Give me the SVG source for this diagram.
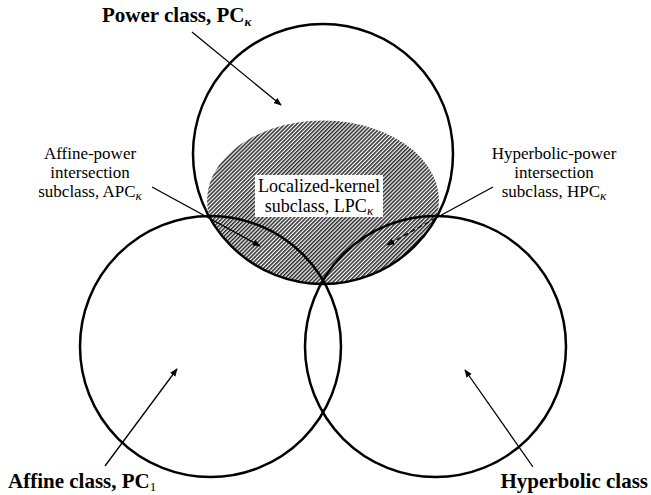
<svg xmlns="http://www.w3.org/2000/svg" width="651" height="495" viewBox="0 0 651 495">
<defs>
<pattern id="hatch" width="2.8" height="2.8" patternUnits="userSpaceOnUse" patternTransform="rotate(45)">
<rect width="2.8" height="2.8" fill="#ffffff"/>
<line x1="0.8" y1="0" x2="0.8" y2="2.8" stroke="#000" stroke-width="1.3"/>
</pattern>
<marker id="ah" viewBox="0 0 10 10" refX="9" refY="5" markerWidth="8" markerHeight="8" markerUnits="userSpaceOnUse" orient="auto">
<path d="M0,1 L10,5 L0,9 Z" fill="#000"/>
</marker>
</defs>
<style>
.ring{fill:none;stroke:#000;stroke-width:2.5}
.bold{font-family:"Liberation Serif","Times New Roman",serif;font-weight:bold;font-size:21px;fill:#000}
.reg{font-family:"Liberation Serif","Times New Roman",serif;font-size:17px;fill:#000}
.sub{font-style:italic;font-size:13px}
.conn{stroke:#000;stroke-width:1.3;fill:none}
</style>
<rect width="651" height="495" fill="#ffffff"/>

<g id="localized-kernel">
<path d="M209.8,218 A116,80 0 1 1 436.2,218 A130,130 0 0 1 209.8,218 Z" fill="url(#hatch)"/>
</g>

<g id="power-class">
<circle class="ring" cx="323" cy="154" r="130"/>
<text class="bold" x="102" y="22">Power class, PC<tspan class="sub" dy="4">κ</tspan></text>
</g>

<g id="affine-class">
<circle class="ring" cx="210.5" cy="346.5" r="130.5"/>
<text class="bold" x="8" y="488">Affine class, PC<tspan style="font-weight:normal;font-size:13px" dy="3">1</tspan></text>
</g>

<g id="hyperbolic-class">
<circle class="ring" cx="435.5" cy="346.5" r="130.5"/>
<text class="bold" x="648" y="488" text-anchor="end">Hyperbolic class</text>
</g>

<g id="localized-kernel-label">
<rect x="255" y="175" width="128" height="42" fill="#ffffff"/>
<text class="reg" x="319" y="192" text-anchor="middle" style="font-size:18px">Localized-kernel</text>
<text class="reg" x="319" y="212" text-anchor="middle" style="font-size:18px">subclass, LPC<tspan class="sub" dy="3">κ</tspan></text>
</g>

<g id="affine-power">
<text class="reg" x="90" y="159" text-anchor="middle">Affine-power</text>
<text class="reg" x="90" y="178" text-anchor="middle">intersection</text>
<text class="reg" x="90" y="197" text-anchor="middle">subclass, APC<tspan class="sub" dy="3">κ</tspan></text>
</g>

<g id="hyperbolic-power">
<text class="reg" x="554" y="159" text-anchor="middle">Hyperbolic-power</text>
<text class="reg" x="554" y="178" text-anchor="middle">intersection</text>
<text class="reg" x="554" y="197" text-anchor="middle">subclass, HPC<tspan class="sub" dy="3">κ</tspan></text>
</g>

<g id="connectors">
<line class="conn" x1="192" y1="32" x2="281" y2="105" marker-end="url(#ah)"/>
<line class="conn" x1="152" y1="187" x2="260" y2="246" marker-end="url(#ah)"/>
<line class="conn" x1="493" y1="187" x2="436" y2="218"/>
<line class="conn" x1="436" y1="218" x2="387" y2="245" stroke-dasharray="5 3" marker-end="url(#ah)"/>
<line class="conn" x1="105" y1="466" x2="177" y2="369" marker-end="url(#ah)"/>
<line class="conn" x1="533" y1="467" x2="465" y2="370" marker-end="url(#ah)"/>
</g>
</svg>
